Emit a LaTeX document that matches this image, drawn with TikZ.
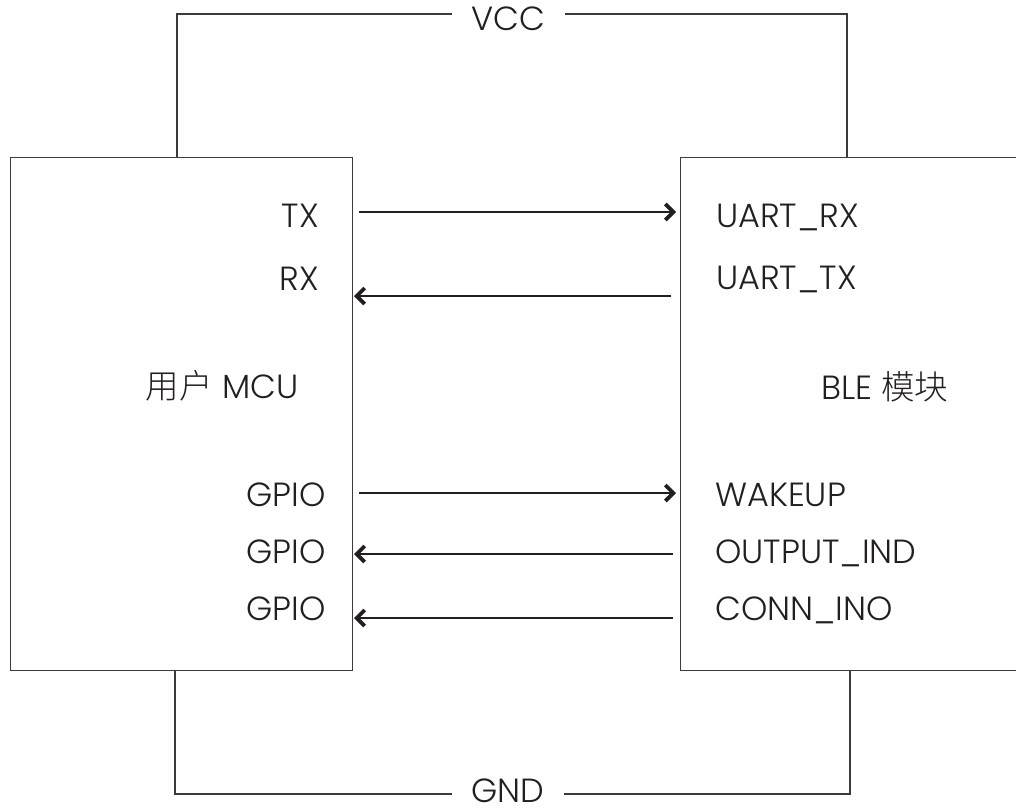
\documentclass[tikz,border=0pt]{standalone}
\usepackage{fontspec}
\setmainfont{Poppins}[UprightFont={* Light}]
\newfontfamily\cjk{Noto Sans CJK SC}[UprightFont={* Light}]
\usetikzlibrary{arrows.meta}
\definecolor{txtc}{HTML}{231F20}
\definecolor{linec}{HTML}{3D3A39}
\begin{document}
\begin{tikzpicture}[x=1pt,y=-1pt,
  box/.style={draw=linec,line width=1.3pt,anchor=north west,inner sep=0pt},
  lbl/.style={text=txtc,font=\fontsize{33.5}{38}\selectfont,inner sep=0pt},
  wire/.style={draw=linec,line width=2pt},
  sig/.style={draw=txtc,line width=1.5pt,-{Straight Barb[length=8pt,width=16pt,line width=3.8pt]}}]
\useasboundingbox (0,0) rectangle (1016,807);
\clip (0,0) rectangle (1016,807);
% boxes
\node[box,minimum width=342pt,minimum height=513pt] (mcu) at (10,157) {};
\node[box,minimum width=360pt,minimum height=513pt] (ble) at (680,157) {};
% box titles
\node[lbl,anchor=base] (mcut) at (222,398) {{\cjk 用户} MCU};
\node[lbl,anchor=base west] (blet) at (821,399) {BLE {\cjk 模块}};
% left labels
\node[lbl,anchor=base east] (tx) at (319,227) {TX};
\node[lbl,anchor=base east] (rx) at (319,290) {RX};
\node[lbl,anchor=base east] (g1) at (326,506) {GPIO};
\node[lbl,anchor=base east] (g2) at (326,563) {GPIO};
\node[lbl,anchor=base east] (g3) at (326,620) {GPIO};
% right labels
\node[lbl,anchor=base west] (urx) at (716,227) {UART\_RX};
\node[lbl,anchor=base west] (utx) at (716,289) {UART\_TX};
\node[lbl,anchor=base west] (wk) at (715,506) {WAKEUP};
\node[lbl,anchor=base west] (oi) at (715,563) {OUTPUT\_IND};
\node[lbl,anchor=base west] (ci) at (715,620) {CONN\_INO};
% power labels
\node[lbl,anchor=base] (vcc) at (508,30) {VCC};
\node[lbl,anchor=base] (gnd) at (508,802) {GND};
% arrow end points
\coordinate (a1s) at (359,212); \coordinate (a1e) at (676,212);
\coordinate (a2s) at (671,296); \coordinate (a2e) at (354,296);
\coordinate (a3s) at (359,493); \coordinate (a3e) at (676,493);
\coordinate (a4s) at (673,554); \coordinate (a4e) at (354,554);
\coordinate (a5s) at (673,618); \coordinate (a5e) at (354,618);
\draw[sig] (a1s) -- (a1e);
\draw[sig] (a2s) -- (a2e);
\draw[sig] (a3s) -- (a3e);
\draw[sig] (a4s) -- (a4e);
\draw[sig] (a5s) -- (a5e);
% VCC wire
\coordinate (vl) at (177,14); \coordinate (vla) at (452,14);
\coordinate (vrb) at (565,14); \coordinate (vr) at (847,14);
\draw[wire] (mcu.north west -| vl) -- (vl) -- (vla);
\draw[wire] (vrb) -- (vr) -- (ble.north west -| vr);
% GND wire
\coordinate (gl) at (175,794); \coordinate (gla) at (452,794);
\coordinate (grb) at (564,794); \coordinate (gr) at (850,794);
\draw[wire] (mcu.south west -| gl) -- (gl) -- (gla);
\draw[wire] (grb) -- (gr) -- (ble.south west -| gr);
\end{tikzpicture}
\end{document}
